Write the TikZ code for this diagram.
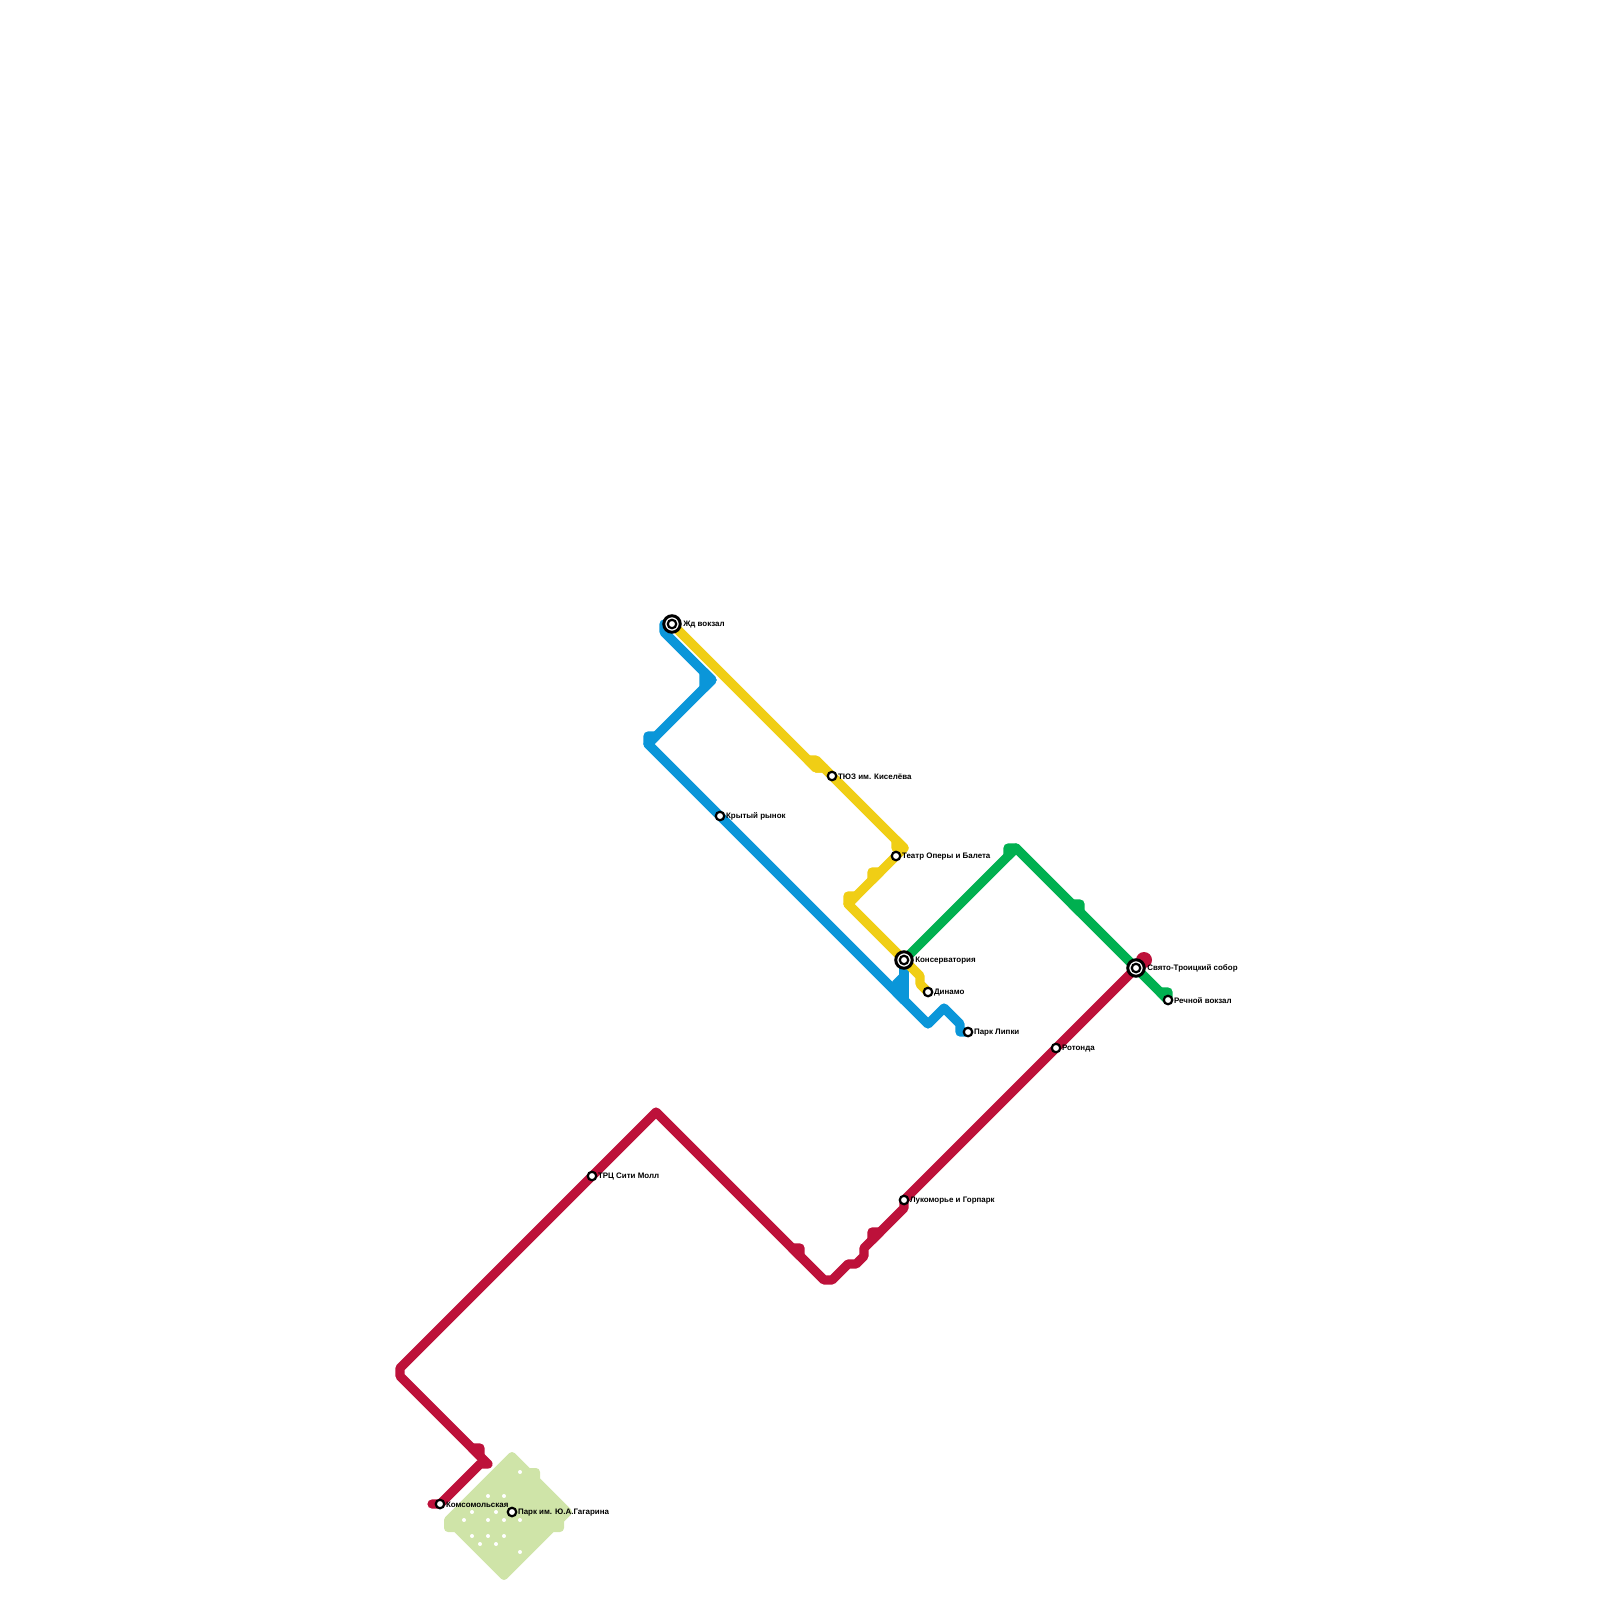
\documentclass[tikz,border=0pt]{standalone}
\usepackage{fontspec}
\setmainfont{Liberation Sans}
\usetikzlibrary{positioning,backgrounds}
\definecolor{blueline}{RGB}{10,150,217}
\definecolor{yellowline}{RGB}{240,206,21}
\definecolor{greenline}{RGB}{0,176,80}
\definecolor{redline}{RGB}{189,17,58}
\definecolor{parkbox}{RGB}{207,228,168}
\tikzset{
  line/.style={line width=0.92mm, line cap=round, line join=round},
  stop/.style={
    circle,
    draw=black,
    fill=white,
    line width=0.22mm,
    minimum size=0.085cm,
    inner sep=0pt
  },
  hub/.style={
    circle,
    draw=black,
    fill=white,
    line width=0.3mm,
    minimum size=0.165cm,
    inner sep=0pt
  },
  stopname/.style={
    inner sep=0pt,
    yshift=-0.008cm,
    font=\fontsize{2.26}{2.8}\selectfont\bfseries
  }
}

\begin{document}
\begin{tikzpicture}[x=0.01cm,y=-0.01cm,node distance=0pt]
        \useasboundingbox (0,0) rectangle (1600,1600);
        \node[hub] (zdh) at (672,624) {};
        \node[stop] (zd) at (672,624) {};
        \node[stop] (tuz) at (832,776) {};
        \node[stop] (teatr) at (896,856) {};
        \node[hub] (konh) at (904,960) {};
        \node[stop] (kon) at (904,960) {};
        \node[stop] (din) at (928,992) {};
        \node[stop] (rynok) at (720,816) {};
        \node[stop] (lipki) at (968,1032) {};
        \node[hub] (sobh) at (1136,968) {};
        \node[stop] (sob) at (1136,968) {};
        \node[stop] (rech) at (1168,1000) {};
        \node[stop] (rot) at (1056,1048) {};
        \node[stop] (luk) at (904,1200) {};
        \node[stop] (trc) at (592,1176) {};
        \node[stop] (kom) at (440,1504) {};
        \node[stop] (gag) at (512,1512) {};
        \node[stopname, right=0.008cm of zdh] (zdt) {Жд вокзал};
        \node[stopname, right=of tuz] (tuzt) {ТЮЗ им. Киселёва};
        \node[stopname, right=of teatr] (teatrt) {Театр Оперы и Балета};
        \node[stopname, right=0.008cm of konh] (kont) {Консерватория};
        \node[stopname, right=of din] (dint) {Динамо};
        \node[stopname, right=of rynok] (rynokt) {Крытый рынок};
        \node[stopname, right=of lipki] (lipkit) {Парк Липки};
        \node[stopname, right=0.008cm of sobh] (sobt) {Свято-Троицкий собор};
        \node[stopname, right=of rech] (recht) {Речной вокзал};
        \node[stopname, right=of rot] (rott) {Ротонда};
        \node[stopname, right=of luk] (lukt) {Лукоморье и Горпарк};
        \node[stopname, right=of trc] (trct) {ТРЦ Сити Молл};
        \node[stopname, right=of kom] (komt) {Комсомольская};
        \node[stopname, right=of gag] (gagt) {Парк им. Ю.А.Гагарина};
        \begin{scope}[on background layer]
          \draw[line, line width=0.8mm, fill=parkbox, draw=parkbox] (512,1456) -- (528,1472) -- (536,1472) -- (536,1480) -- (568,1512) -- (560,1520) -- (560,1528) -- (552,1528) -- (504,1576) -- (456,1528) -- (448,1528) -- (448,1520) -- cycle;
          \foreach \x/\y in {520/1472,488/1496,504/1496,472/1512,496/1512,464/1520,488/1520,504/1520,520/1520,472/1536,488/1536,504/1536,480/1544,496/1544,520/1552}
            \fill[white] (\x,\y) circle (2);
          \draw[line, blueline] (zd.center) -- (664,624) -- (664,632) -- (712,680) -- (648,744) -- (rynok.center) -- (928,1024) -- (944,1008) -- (960,1024) -- (960,1032) -- (lipki.center);
          \filldraw[line, blueline] (704,672) -- (704,688) -- (712,680) -- cycle;
          \filldraw[line, blueline] (656,736) -- (648,736) -- (648,744) -- cycle;
          \draw[line, blueline] (kon.center) -- (904,1000);
          \filldraw[line, blueline] (904,976) -- (896,984) -- (896,992) -- (904,1000) -- cycle;
          \draw[line, yellowline] (zd.center) -- (816,768) -- (824,768) -- (tuz.center) -- (904,848) -- (teatr.center) -- (848,904) -- (kon.center) -- (920,976) -- (920,984) -- (din.center);
          \filldraw[line, yellowline] (808,760) -- (816,760) -- (824,768) -- (816,768) -- cycle;
          \filldraw[line, yellowline] (896,840) -- (896,848) -- (904,848) -- cycle;
          \filldraw[line, yellowline] (880,872) -- (872,872) -- (872,880) -- cycle;
          \filldraw[line, yellowline] (856,896) -- (848,896) -- (848,904) -- cycle;
          \draw[line, greenline] (kon.center) -- (1016,848) -- (rech.center);
          \filldraw[line, greenline] (1008,856) -- (1008,848) -- (1016,848) -- cycle;
          \filldraw[line, greenline] (1072,904) -- (1080,904) -- (1080,912) -- cycle;
          \filldraw[line, greenline] (1160,992) -- (1168,992) -- (1168,1000) -- cycle;
          \draw[line, redline] (sob.center) -- (luk.center) -- (904,1208) -- (864,1248) -- (864,1256) -- (856,1264) -- (848,1264) -- (832,1280) -- (824,1280) -- (656,1112) -- (trc.center) -- (400,1368) -- (400,1376) -- (488,1464) -- (480,1464) -- (kom.center) -- (432,1504);
          \filldraw[line, redline] (880,1232) -- (872,1232) -- (872,1240) -- cycle;
          \filldraw[line, redline] (792,1248) -- (800,1248) -- (800,1256) -- cycle;
          \filldraw[line, redline] (472,1448) -- (480,1448) -- (480,1456) -- cycle;
          \fill[redline] (1144,960) circle (8);
        \end{scope}
      \end{tikzpicture}
\end{document}
